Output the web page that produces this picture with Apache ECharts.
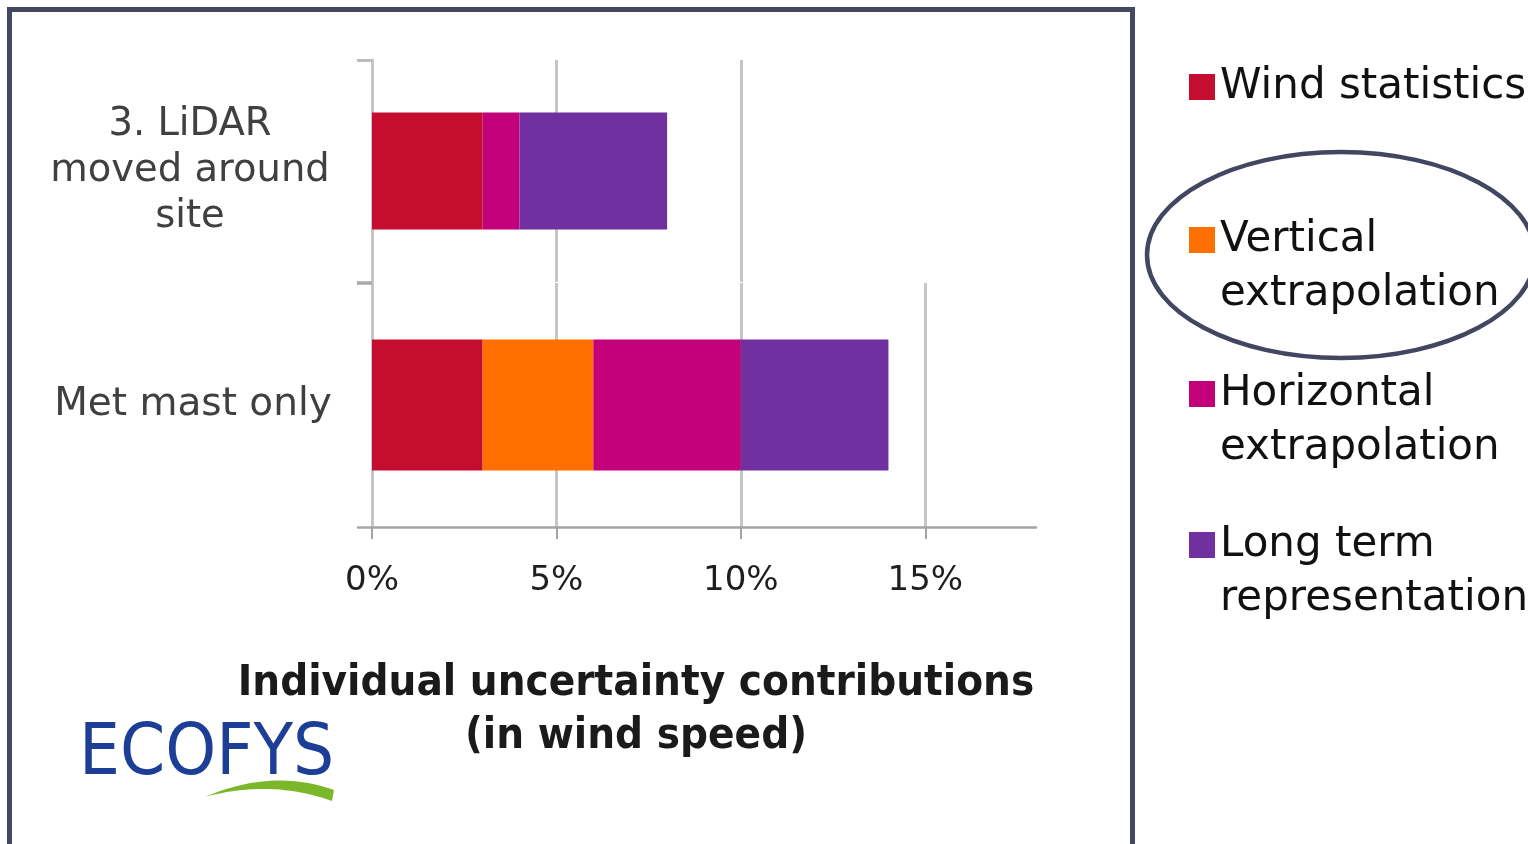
<!DOCTYPE html>
<html>
<head>
<meta charset="utf-8">
<title>Individual uncertainty contributions</title>
<script src="https://cdn.jsdelivr.net/npm/echarts@6/dist/echarts.min.js"></script>
<style>
  html, body { margin: 0; padding: 0; background: #ffffff; }
  #chart { width: 1528px; height: 844px; }
</style>
</head>
<body>
<div id="chart"></div>
<script>
// Measurement set-ups (one per grid row)
const categories = ['3. LiDAR\nmoved around\nsite', 'Met mast only'];

// Uncertainty components (% of wind speed), one value per set-up
const seriesNames = ['Wind statistics', 'Vertical extrapolation', 'Horizontal extrapolation', 'Long term representation'];
// Legend text; a leading blank line keeps the swatch level with the first text line
const legendLabels = ['Wind statistics', ' \nVertical\nextrapolation', ' \nHorizontal\nextrapolation', ' \nLong term\nrepresentation'];
const windStatistics = [3, 3];
const verticalExtrapolation = [0, 3];
const horizontalExtrapolation = [1, 4];
const longTermRepresentation = [4, 4];

// Axis ticks
const xTicks = [0, 5, 10, 15];
const xTicksUpper = [0, 5, 10];

const colors = ['#C40D2F', '#FF7000', '#C2007A', '#7130A0'];
const values = [windStatistics, verticalExtrapolation, horizontalExtrapolation, longTermRepresentation];

const FONT = "'DejaVu Sans', Verdana, sans-serif";
const chart = echarts.init(document.getElementById('chart'), null, { renderer: 'canvas' });

const gridLine = { show: true, lineStyle: { color: '#C6C6C6', width: 3 } };

const series = [];
[0, 1].forEach(function (gi) {
  seriesNames.forEach(function (name, k) {
    series.push({
      type: 'bar',
      name: name,
      xAxisIndex: gi,
      yAxisIndex: gi,
      stack: 'row' + gi,
      barWidth: gi === 0 ? 117 : 131,
      itemStyle: { color: colors[k] },
      data: [values[k][gi]]
    });
  });
});

const legendTops = [60, 159, 313, 464];
const legends = seriesNames.map(function (name, i) {
  return {
    data: [name],
    orient: 'vertical',
    left: 1189,
    top: legendTops[i],
    padding: 0,
    icon: 'rect',
    itemWidth: 26,
    itemHeight: 26,
    selectedMode: false,
    formatter: function () { return legendLabels[i]; },
    textStyle: {
      fontFamily: FONT,
      fontSize: 42,
      lineHeight: 54,
      color: '#111111'
    }
  };
});

// Logo swoosh outline: two quadratic curves forming a thin crescent
function quad(p0, p1, p2, n) {
  const pts = [];
  for (let i = 0; i <= n; i++) {
    const t = i / n, u = 1 - t;
    pts.push([u * u * p0[0] + 2 * u * t * p1[0] + t * t * p2[0],
              u * u * p0[1] + 2 * u * t * p1[1] + t * t * p2[1]]);
  }
  return pts;
}
const swoosh = quad([205, 797], [272, 768], [334, 790], 24)
  .concat([[332, 801]])
  .concat(quad([332, 801], [270, 779], [205, 797], 24));

chart.setOption({
  animation: false,
  backgroundColor: '#ffffff',
  title: {
    text: 'Individual uncertainty contributions\n(in wind speed)',
    left: 636,
    top: 657,
    padding: 0,
    textAlign: 'center',
    textStyle: {
      fontFamily: "'DejaVu Sans Condensed', 'DejaVu Sans', sans-serif",
      fontWeight: 'bold',
      fontSize: 43.5,
      lineHeight: 53,
      color: '#1a1a1a'
    }
  },
  legend: legends,
  grid: [
    { left: 372, width: 664, top: 60, height: 222 },
    { left: 372, width: 664, top: 283, height: 244 }
  ],
  xAxis: [
    {
      gridIndex: 0, type: 'value', min: 0, max: 18,
      axisLine: { show: false },
      axisTick: { show: false, customValues: xTicksUpper },
      axisLabel: { show: false },
      splitLine: gridLine
    },
    {
      gridIndex: 1, type: 'value', min: 0, max: 18,
      axisLine: { show: true, lineStyle: { color: '#A3A3A3', width: 2.5 } },
      axisTick: { show: true, customValues: xTicks, length: 12, lineStyle: { color: '#A3A3A3', width: 2 } },
      axisLabel: {
        customValues: xTicks,
        formatter: '{value}%',
        fontFamily: FONT,
        fontSize: 34,
        color: '#1e1e1e',
        margin: 37
      },
      splitLine: gridLine
    }
  ],
  yAxis: [
    {
      gridIndex: 0, type: 'category', data: [categories[0]],
      axisLine: { show: true, lineStyle: { color: '#C6C6C6', width: 3 } },
      axisTick: { show: true, length: 15, lineStyle: { color: '#BDBDBD', width: 3 } },
      axisLabel: { align: 'center', margin: 182, fontFamily: FONT, fontSize: 38.5, lineHeight: 46, color: '#404040' }
    },
    {
      gridIndex: 1, type: 'category', data: [categories[1]],
      axisLine: { show: true, lineStyle: { color: '#C6C6C6', width: 3 } },
      axisTick: { show: true, length: 15, lineStyle: { color: '#A8A8A8', width: 2.5 } },
      axisLabel: { align: 'center', margin: 179, fontFamily: FONT, fontSize: 39, color: '#404040' }
    }
  ],
  series: series,
  graphic: [
    {
      // slide frame around the chart
      type: 'rect',
      shape: { x: 9.5, y: 9.5, width: 1123, height: 900 },
      style: { fill: null, stroke: '#434761', lineWidth: 5 },
      silent: true
    },
    {
      // highlight around the vertical extrapolation entry
      type: 'ellipse',
      shape: { cx: 1341, cy: 255, rx: 194, ry: 103 },
      style: { fill: null, stroke: '#434661', lineWidth: 4.5 },
      silent: true,
      z: 10
    },
    {
      type: 'text',
      x: 79,
      y: 755,
      style: {
        text: 'ECOFYS',
        font: "72px 'Liberation Sans Narrow', 'DejaVu Sans Condensed', sans-serif",
        fill: '#1C3E96',
        verticalAlign: 'middle',
        align: 'left'
      },
      silent: true
    },
    {
      // green swoosh under the logo
      type: 'polygon',
      shape: { points: swoosh },
      style: { fill: '#7AB82A' },
      silent: true
    }
  ]
});
</script>
</body>
</html>
